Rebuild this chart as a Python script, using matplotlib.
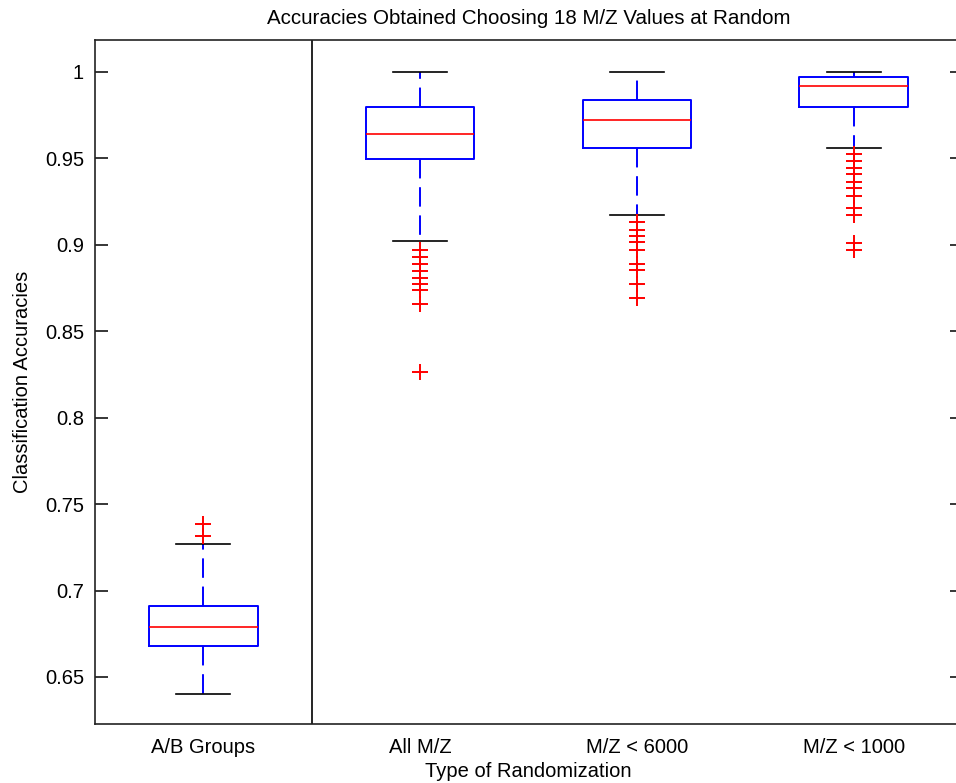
import matplotlib
matplotlib.use('Agg')
import matplotlib.pyplot as plt

# Box statistics
groups = ['A/B Groups', 'All M/Z', 'M/Z < 6000', 'M/Z < 1000']
whislo = [0.640, 0.902, 0.917, 0.956]
q1 = [0.668, 0.9495, 0.956, 0.980]
med = [0.679, 0.964, 0.972, 0.992]
q3 = [0.691, 0.980, 0.984, 0.997]
whishi = [0.727, 1.000, 1.000, 1.000]
outliers = [
    [0.7385, 0.7317],
    [0.8970, 0.8928, 0.8889, 0.8847, 0.8808, 0.8774, 0.8739, 0.8658, 0.8265],
    [0.9130, 0.9086, 0.9051, 0.9017, 0.8970, 0.8889, 0.8855, 0.8774, 0.8693],
    [0.9524, 0.9485, 0.9446, 0.9408, 0.9365, 0.9327, 0.9284, 0.9211, 0.9173,
     0.9013, 0.8970],
]

stats = []
for i in range(len(groups)):
    stats.append(dict(label=groups[i], whislo=whislo[i], q1=q1[i], med=med[i],
                      q3=q3[i], whishi=whishi[i], fliers=outliers[i]))

plt.rcParams['font.family'] = ['Liberation Sans', 'DejaVu Sans']

fig = plt.figure(figsize=(9.56, 7.83), dpi=100)
ax = fig.add_axes([95 / 956, 59 / 783, 867 / 956, 684.5 / 783])

ax.bxp(stats, positions=[1, 2, 3, 4], widths=0.5, capwidths=0.25,
       boxprops=dict(color='blue', linewidth=1.4),
       medianprops=dict(color='red', linewidth=1.2),
       whiskerprops=dict(color='blue', linewidth=1.4, linestyle=(0, (10, 4.5))),
       capprops=dict(color='black', linewidth=1.2),
       flierprops=dict(marker='+', markeredgecolor='red', markersize=11,
                       markeredgewidth=1.4, linestyle='none'))

ax.axvline(1.5, color='black', linewidth=1.2)

ax.set_xlim(0.5, 4.5)
ax.set_ylim(0.6228, 1.0188)
ax.set_yticks([0.65, 0.7, 0.75, 0.8, 0.85, 0.9, 0.95, 1])
ax.set_yticklabels(['0.65', '0.7', '0.75', '0.8', '0.85', '0.9', '0.95', '1'])
ax.tick_params(axis='y', direction='in', length=9, width=1.1, right=True,
               labelsize=14.5, pad=8)
ax.tick_params(axis='x', length=0, labelsize=14.5, pad=10)
for s in ax.spines.values():
    s.set_linewidth(1.2)
    s.set_color('#222222')

ax.set_title('Accuracies Obtained Choosing 18 M/Z Values at Random', fontsize=14.8, pad=11)
ax.set_xlabel('Type of Randomization', fontsize=14.5, labelpad=4)
ax.set_ylabel('Classification Accuracies', fontsize=14.5, labelpad=9)

plt.savefig('out.png', dpi=100)
